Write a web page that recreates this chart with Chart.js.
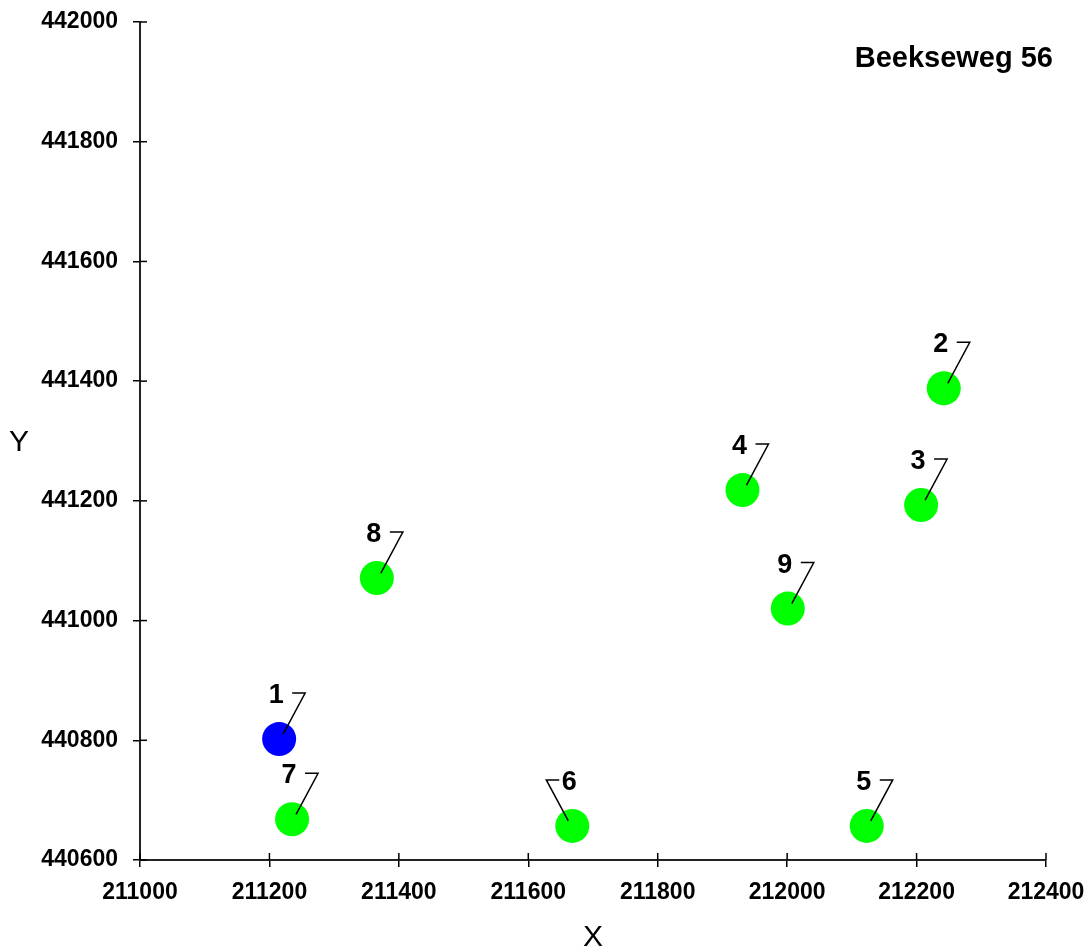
<!DOCTYPE html>
<html>
<head>
<meta charset="utf-8">
<script src="https://cdn.jsdelivr.net/npm/chart.js@4.4.1/dist/chart.umd.min.js"></script>
<style>
html, body { margin: 0; padding: 0; background: #fff; }
#wrap { width: 1086px; height: 949px; }
</style>
</head>
<body>
<div id="wrap"><canvas id="chart"></canvas></div>
<script>
// Measurement points (RD coordinates)
const pointLabels = ['1', '2', '3', '4', '5', '6', '7', '8', '9'];
const xValues = [211215, 212242, 212207, 211931, 212123, 211668, 211235, 211366, 212001];
const yValues = [440802, 441388, 441193, 441218, 440657, 440657, 440668, 441071, 441020];
const highlighted = ['1'];
const leftLeaders = ['6'];

// Axis ranges / tick labels
const xTicks = [211000, 211200, 211400, 211600, 211800, 212000, 212200, 212400];
const yTicks = [440600, 440800, 441000, 441200, 441400, 441600, 441800, 442000];
const chartTitle = 'Beekseweg 56';
const xTitle = 'X';
const yTitle = 'Y';

const FONT = '"Liberation Sans", Arial, sans-serif';

const annotate = {
    id: 'annotate',
    afterDraw(chart) {
        const { ctx, chartArea, scales: { x, y } } = chart;
        ctx.save();

        // inner half of the crossing tick marks
        ctx.strokeStyle = '#000';
        ctx.lineWidth = 1.5;
        xTicks.forEach(v => {
            const px = x.getPixelForValue(v);
            ctx.beginPath();
            ctx.moveTo(px, chartArea.bottom);
            ctx.lineTo(px, chartArea.bottom - 7);
            ctx.stroke();
        });
        yTicks.forEach(v => {
            const py = y.getPixelForValue(v);
            ctx.beginPath();
            ctx.moveTo(chartArea.left, py);
            ctx.lineTo(chartArea.left + 7, py);
            ctx.stroke();
        });

        // point labels with leader lines
        ctx.lineWidth = 1.5;
        ctx.fillStyle = '#000';
        ctx.font = 'bold 27px ' + FONT;
        ctx.textAlign = 'center';
        ctx.textBaseline = 'alphabetic';
        pointLabels.forEach((lab, i) => {
            const px = x.getPixelForValue(xValues[i]);
            const py = y.getPixelForValue(yValues[i]);
            const dir = leftLeaders.includes(lab) ? -1 : 1;
            ctx.beginPath();
            ctx.moveTo(px + dir * 4, py - 5);
            ctx.lineTo(px + dir * 26, py - 46);
            ctx.lineTo(px + dir * 13, py - 46);
            ctx.stroke();
            ctx.fillText(lab, px - 3, py - 36);
        });

        // title and axis titles
        ctx.font = 'bold 29px ' + FONT;
        ctx.textAlign = 'right';
        ctx.fillText(chartTitle, 1053, 67);

        ctx.font = '30px ' + FONT;
        ctx.textAlign = 'center';
        ctx.fillText(xTitle, (chartArea.left + chartArea.right) / 2, 946);
        ctx.fillText(yTitle, 19, 451);

        ctx.restore();
    }
};

const axisCommon = {
    type: 'linear',
    grid: { display: true, drawOnChartArea: false, drawTicks: true, tickLength: 7, color: '#000', lineWidth: 1.5 },
    border: { display: true, color: '#222', width: 2 },
    title: { display: false }
};

new Chart(document.getElementById('chart'), {
    type: 'scatter',
    data: {
        datasets: [{
            data: xValues.map((v, i) => ({ x: v, y: yValues[i] })),
            pointRadius: 17,
            pointHoverRadius: 17,
            pointBorderWidth: 0,
            pointBackgroundColor: pointLabels.map(l => highlighted.includes(l) ? '#0000ff' : '#00ff00'),
            pointBorderColor: pointLabels.map(l => highlighted.includes(l) ? '#0000ff' : '#00ff00')
        }]
    },
    options: {
        responsive: true,
        maintainAspectRatio: false,
        animation: false,
        layout: { padding: { top: 22, right: 40, bottom: 0, left: 0 } },
        plugins: { legend: { display: false }, tooltip: { enabled: false } },
        scales: {
            x: {
                ...axisCommon,
                position: 'bottom',
                min: xTicks[0],
                max: xTicks[xTicks.length - 1],
                afterFit: s => { s.height = 89; s.paddingLeft = 0; s.paddingRight = 0; },
                afterBuildTicks: s => { s.ticks = xTicks.map(v => ({ value: v })); },
                ticks: {
                    color: '#000',
                    font: { family: FONT, size: 23, weight: 'bold' },
                    padding: 12,
                    maxRotation: 0,
                    autoSkip: false,
                    callback: v => String(v)
                }
            },
            y: {
                ...axisCommon,
                position: 'left',
                min: yTicks[0],
                max: yTicks[yTicks.length - 1],
                afterFit: s => { s.width = 140; s.paddingTop = 0; s.paddingBottom = 0; },
                afterBuildTicks: s => { s.ticks = yTicks.map(v => ({ value: v })); },
                ticks: {
                    color: '#000',
                    font: { family: FONT, size: 23, weight: 'bold' },
                    padding: 15,
                    autoSkip: false,
                    callback: v => String(v)
                }
            }
        }
    },
    plugins: [annotate]
});
</script>
</body>
</html>
